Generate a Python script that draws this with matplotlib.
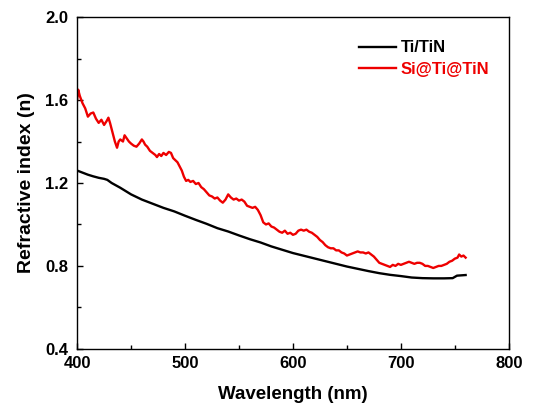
import numpy as np
import matplotlib.pyplot as plt
from matplotlib.ticker import MultipleLocator

plt.rcParams['font.family'] = ['Liberation Sans', 'DejaVu Sans']
plt.rcParams['font.weight'] = 'bold'

# Ti/TiN curve
wl_black = [400, 405, 410, 415, 420, 425, 428, 432, 440, 450, 460, 470, 480, 490,
            500, 510, 520, 530, 540, 550, 560, 570, 580, 590, 600, 610, 620, 630,
            640, 650, 660, 670, 680, 690, 700, 710, 720, 730, 740, 748, 752, 760]
n_black = [1.26, 1.25, 1.24, 1.232, 1.225, 1.22, 1.215, 1.20, 1.177, 1.145, 1.12,
           1.10, 1.08, 1.063, 1.042, 1.022, 1.003, 0.982, 0.966, 0.947, 0.929,
           0.913, 0.894, 0.878, 0.862, 0.849, 0.836, 0.823, 0.81, 0.797, 0.786,
           0.775, 0.765, 0.757, 0.751, 0.744, 0.741, 0.74, 0.74, 0.741, 0.753,
           0.756]

# Si@Ti@TiN curve
wl_red = [400, 401, 402.5, 405, 407.5, 410, 412.5, 415, 417.5, 420, 422.5, 425,
          427.5, 429, 430.5, 432.5, 435, 437, 438.5, 440, 442.5, 444, 446, 448,
          450, 452.5, 455, 457.5, 460, 461.5, 463, 465, 467.5, 470, 472.5, 474,
          476, 478, 480, 482.5, 485, 487, 489, 491, 493, 495, 497, 499, 501,
          503, 505, 507.5, 510, 512.5, 515, 517.5, 520, 522.5, 525, 527.5, 530,
          532.5, 535, 537.5, 540, 542.5, 545, 547.5, 550, 552.5, 555, 557.5,
          560, 562.5, 565, 567.5, 570, 572.5, 575, 577.5, 580, 582.5, 585,
          587.5, 590, 592.5, 595, 597.5, 600,
          602.5, 605, 607.5, 610, 612.5, 615, 617.5, 620, 622.5, 625, 627.5,
          630, 632.5, 635, 637.5, 640, 642.5, 645, 647.5, 650, 652.5, 655,
          657.5, 660, 662.5, 665, 667.5, 670, 672.5, 675, 677.5, 680, 682.5,
          685, 687.5, 690, 692.5, 695, 697.5, 700,
          702.5, 705, 707.5, 710, 712.5, 715, 717.5, 720, 722.5, 725, 727.5,
          730, 732.5, 735, 737.5, 740, 742.5, 745, 747.5, 750, 752.5, 754, 756,
          758, 760]
n_red = [1.60, 1.65, 1.62, 1.585, 1.56, 1.52, 1.535, 1.54, 1.51, 1.49, 1.505,
         1.48, 1.50, 1.515, 1.49, 1.45, 1.40, 1.37, 1.40, 1.41, 1.40, 1.43,
         1.415, 1.40, 1.39, 1.38, 1.375, 1.39, 1.41, 1.40, 1.385, 1.375, 1.355,
         1.345, 1.335, 1.325, 1.34, 1.33, 1.345, 1.335, 1.35, 1.345, 1.32, 1.31,
         1.30, 1.28, 1.26, 1.23, 1.21,
         1.215, 1.205, 1.21, 1.195, 1.20, 1.18, 1.17, 1.155, 1.14, 1.135, 1.125,
         1.13, 1.115, 1.105, 1.12, 1.145, 1.13, 1.12, 1.125, 1.115, 1.12, 1.11,
         1.09, 1.085, 1.08, 1.085, 1.07, 1.045, 1.01, 1.00, 1.005, 0.99, 0.985,
         0.975, 0.965, 0.96, 0.97, 0.955, 0.96, 0.95,
         0.955, 0.97, 0.975, 0.97, 0.975, 0.965, 0.96, 0.95, 0.94, 0.925, 0.915,
         0.90, 0.89, 0.885, 0.885, 0.875, 0.875, 0.865, 0.86, 0.85, 0.855, 0.86,
         0.865, 0.87, 0.865, 0.865, 0.86, 0.865, 0.855, 0.845, 0.83, 0.815,
         0.81, 0.805, 0.80, 0.795, 0.805, 0.80, 0.81, 0.805,
         0.81, 0.815, 0.82, 0.815, 0.81, 0.815, 0.815, 0.81, 0.80, 0.80, 0.795,
         0.79, 0.795, 0.80, 0.80, 0.805, 0.81, 0.82, 0.825, 0.835, 0.84, 0.855,
         0.845, 0.85, 0.84]

fig = plt.figure(figsize=(5.43, 4.08), dpi=100)
ax = fig.add_axes([0.142, 0.145, 0.795, 0.813])

ax.plot(wl_black, n_black, color='black', lw=1.7, label='Ti/TiN')
ax.plot(wl_red, n_red, color='#ee0000', lw=1.7, label='Si@Ti@TiN')

ax.set_xlim(400, 800)
ax.set_ylim(0.4, 2.0)
ax.xaxis.set_major_locator(MultipleLocator(100))
ax.xaxis.set_minor_locator(MultipleLocator(50))
ax.yaxis.set_major_locator(MultipleLocator(0.4))
ax.yaxis.set_minor_locator(MultipleLocator(0.2))
ax.tick_params(which='both', direction='in', labelsize=12, width=1)
ax.tick_params(which='major', length=4)
ax.tick_params(which='minor', length=3)
ax.tick_params(axis='x', pad=5)
ax.tick_params(axis='y', pad=6.5)
for s in ax.spines.values():
    s.set_linewidth(1)

ax.set_xlabel('Wavelength (nm)', fontsize=13.5, fontweight='bold', labelpad=11)
ax.set_ylabel('Refractive index (n)', fontsize=14, fontweight='bold', labelpad=7)

leg = ax.legend(loc='upper right', frameon=False, fontsize=12, handlelength=2.2,
                handletextpad=0.3, labelspacing=0.4, bbox_to_anchor=(0.99, 0.975))
for txt, c in zip(leg.get_texts(), ['black', '#ee0000']):
    txt.set_color(c)

fig.savefig('out.png', dpi=100)
